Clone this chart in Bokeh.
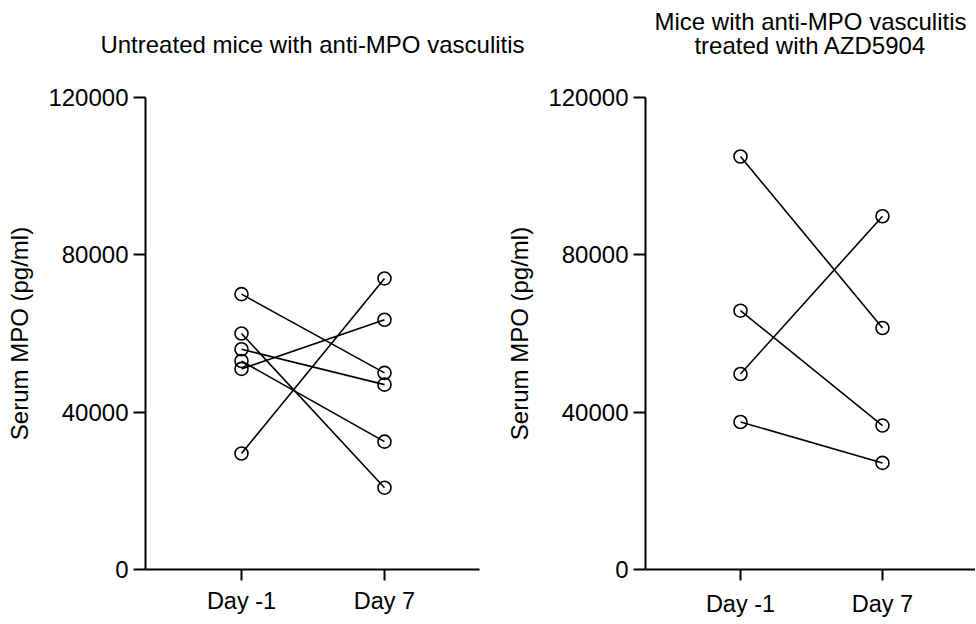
from bokeh.plotting import figure
from bokeh.layouts import row
from bokeh.models import Range1d, FixedTicker, Title
from bokeh.embed import file_html
from bokeh.resources import INLINE

days = ["Day -1", "Day 7"]
y_ticks = [0, 40000, 80000, 120000]

untreated_day_m1 = [70000, 60000, 56000, 53000, 51000, 29500]
untreated_day7 = [50000, 20800, 47000, 32500, 63500, 74000]

treated_day_m1 = [105000, 65800, 49700, 37500]
treated_day7 = [61400, 36600, 89800, 27100]

title_left = ["Untreated mice with anti-MPO vasculitis"]
title_right = ["Mice with anti-MPO vasculitis", "treated with AZD5904"]

FONT = "Liberation Sans"


def make_panel(title_lines, gap, line_standoffs, before, after, width, border_left, border_right,
               x_lo, x_hi, x_standoff):
    p = figure(width=width, height=620, output_backend="svg", toolbar_location=None,
               x_range=Range1d(x_lo, x_hi), y_range=Range1d(0, 120000),
               min_border_left=border_left, min_border_right=border_right,
               min_border_top=97, min_border_bottom=51)
    p.title = None
    p.outline_line_color = None
    p.xgrid.visible = False
    p.ygrid.visible = False
    p.background_fill_color = None
    p.border_fill_color = None

    # blank spacer between frame and title, then title lines from the frame outward
    p.add_layout(Title(text=" ", standoff=gap, text_font=FONT, text_font_size="24px"), "above")
    for txt, so in zip(reversed(title_lines), line_standoffs):
        p.add_layout(Title(text=txt, align="center", standoff=so,
                           text_font=FONT, text_font_size="24px",
                           text_font_style="normal", text_color="black"), "above")

    xpos = list(range(len(days)))
    xs = [xpos for _ in before]
    ys = [[a, b] for a, b in zip(before, after)]
    p.multi_line(xs, ys, line_color="black", line_width=1.6)
    p.scatter([xpos[0]] * len(before), before, marker="circle", size=13,
              fill_color=None, line_color="black", line_width=1.6)
    p.scatter([xpos[1]] * len(after), after, marker="circle", size=13,
              fill_color=None, line_color="black", line_width=1.6)

    ya = p.yaxis[0]
    ya.ticker = FixedTicker(ticks=y_ticks)
    ya.major_label_overrides = {v: str(v) for v in y_ticks}
    ya.axis_label = "Serum MPO (pg/ml)"
    ya.axis_label_text_font = FONT
    ya.axis_label_text_font_size = "24px"
    ya.axis_label_text_font_style = "normal"
    ya.axis_label_text_color = "black"
    ya.axis_label_standoff = 12
    ya.major_label_text_font = FONT
    ya.major_label_text_font_size = "24px"
    ya.major_label_text_color = "black"
    ya.major_label_standoff = 5
    ya.major_tick_out = 12
    ya.major_tick_in = 0
    ya.minor_tick_out = 0
    ya.minor_tick_in = 0
    ya.axis_line_width = 2
    ya.major_tick_line_width = 2
    ya.axis_line_color = "black"
    ya.major_tick_line_color = "black"

    xa = p.xaxis[0]
    xa.ticker = FixedTicker(ticks=xpos)
    xa.major_label_overrides = {i: d for i, d in zip(xpos, days)}
    xa.major_label_text_font = FONT
    xa.major_label_text_font_size = "23.5px"
    xa.major_label_text_color = "black"
    xa.major_label_standoff = x_standoff
    xa.major_tick_out = 11
    xa.major_tick_in = 0
    xa.minor_tick_out = 0
    xa.minor_tick_in = 0
    xa.axis_line_width = 2
    xa.major_tick_line_width = 2
    xa.axis_line_color = "black"
    xa.major_tick_line_color = "black"
    return p


# left panel is wider so its title can run past the middle; the right panel overlaps it
p1 = make_panel(title_left, 11, [0], untreated_day_m1, untreated_day7,
                535, 145, 56, -0.6713, 1.6643, 7)
p2 = make_panel(title_right, 10, [0, -10], treated_day_m1, treated_day7,
                487, 157, 0, -0.669, 1.655, 10)
p2.margin = (0, 0, 0, -47)

layout = row(p1, p2)
open("out.html", "w").write(file_html(layout, INLINE))
